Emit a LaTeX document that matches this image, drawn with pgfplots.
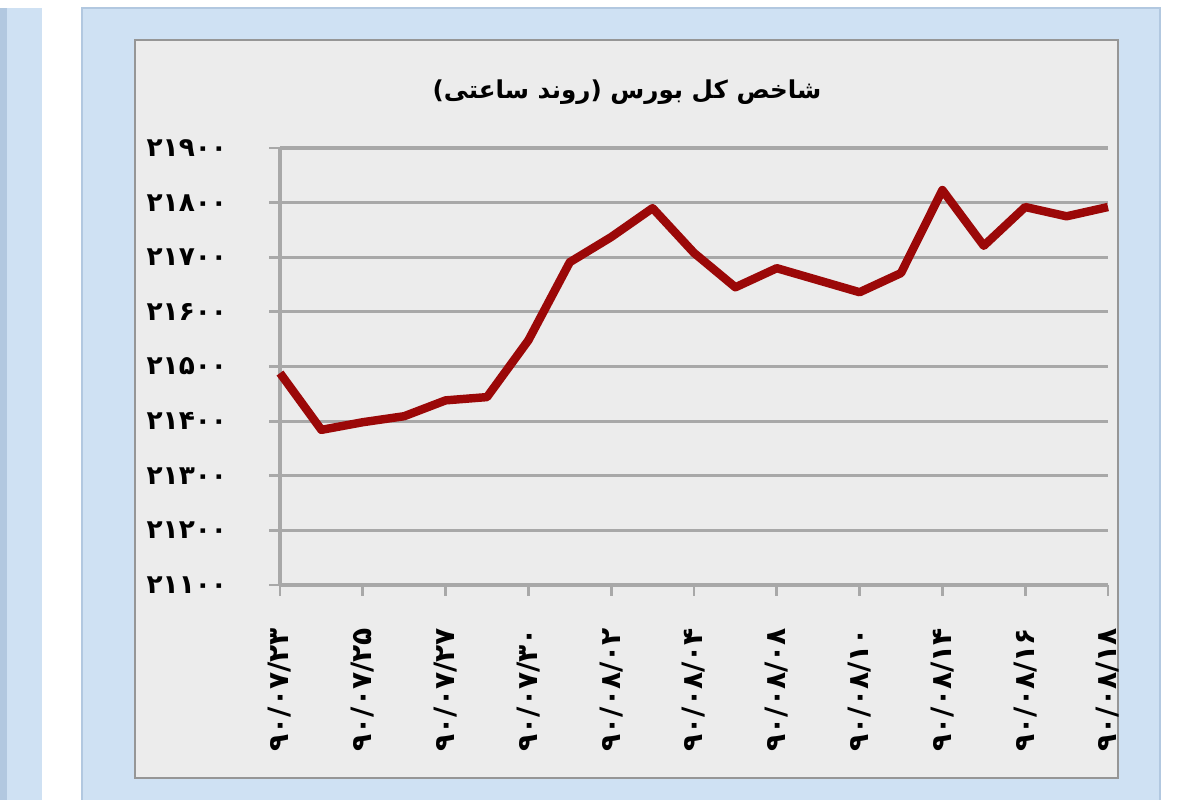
\documentclass[border=0pt]{standalone}
\usepackage{fontspec}
\usepackage{pgfplots}
\pgfplotsset{compat=1.18}
\TeXXeTstate=1
\newfontfamily\fa[Script=Arabic]{DejaVu Sans}

\definecolor{frameblue}{RGB}{207,225,243}
\definecolor{darkblue}{RGB}{178,200,224}
\definecolor{panelgray}{RGB}{236,236,236}
\definecolor{bordergray}{RGB}{150,150,150}
\definecolor{gridgray}{RGB}{168,168,168}
\definecolor{linered}{RGB}{155,8,8}

\begin{document}
\begin{tikzpicture}
  \useasboundingbox (0,0) rectangle (12,8);
  \fill[white] (0,0) rectangle (12,8);
  % neighbouring panel on the left
  \fill[frameblue] (0,0) rectangle (0.42,7.92);
  \fill[darkblue] (0,0) rectangle (0.07,7.92);
  % blue frame and grey chart panel
  \fill[frameblue] (0.82,0) rectangle (11.60,7.92);
  \draw[darkblue, line width=0.6pt] (0.82,0) -- (0.82,7.92) -- (11.60,7.92) -- (11.60,0);
  \filldraw[fill=panelgray, draw=bordergray, line width=0.8pt] (1.35,0.22) rectangle (11.18,7.60);

  \node[font=\fa\bfseries\fontsize{7}{8}\selectfont] at (6.27,7.08) {\beginR شاخص کل بورس (روند ساعتی)\endR};

  \begin{axis}[
    at={(2.80cm,2.15cm)}, anchor=south west,
    scale only axis,
    width=8.28cm, height=4.37cm,
    xmin=0, xmax=20,
    ymin=21100, ymax=21900,
    clip=false,
    scaled y ticks=false,
    axis x line*=bottom, axis y line*=left,
    axis line style={gridgray, line width=1.1pt},
    ymajorgrids,
    grid style={gridgray, line width=0.9pt},
    ytick={21100,21200,...,21900},
    yticklabels={۲۱۱۰۰,۲۱۲۰۰,۲۱۳۰۰,۲۱۴۰۰,۲۱۵۰۰,۲۱۶۰۰,۲۱۷۰۰,۲۱۸۰۰,۲۱۹۰۰},
    xtick={0,2,...,20},
    xticklabels={۹۰/۰۷/۲۳,۹۰/۰۷/۲۵,۹۰/۰۷/۲۷,۹۰/۰۷/۳۰,۹۰/۰۸/۰۲,۹۰/۰۸/۰۴,۹۰/۰۸/۰۸,۹۰/۰۸/۱۰,۹۰/۰۸/۱۴,۹۰/۰۸/۱۶,۹۰/۰۸/۱۸},
    tick style={gridgray, line width=0.8pt},
    major tick length=3pt,
    tick align=outside,
    yticklabel style={font=\fa\bfseries\fontsize{7.5}{9}\selectfont},
    yticklabel shift=0.3cm,
    xticklabel style={font=\fa\bfseries\fontsize{8}{9}\selectfont, rotate=90, anchor=east},
    xticklabel shift=0.2cm,
  ]
    \addplot[linered, line width=2.4pt, line join=round, no marks] coordinates {
      (0,21488) (1,21384) (2,21398) (3,21409) (4,21438) (5,21444)
      (6,21548) (7,21691) (8,21737) (9,21790) (10,21708) (11,21645)
      (12,21680) (13,21658) (14,21636) (15,21671) (16,21823) (17,21721)
      (18,21792) (19,21775) (20,21792)
    };
  \end{axis}
\end{tikzpicture}
\end{document}
